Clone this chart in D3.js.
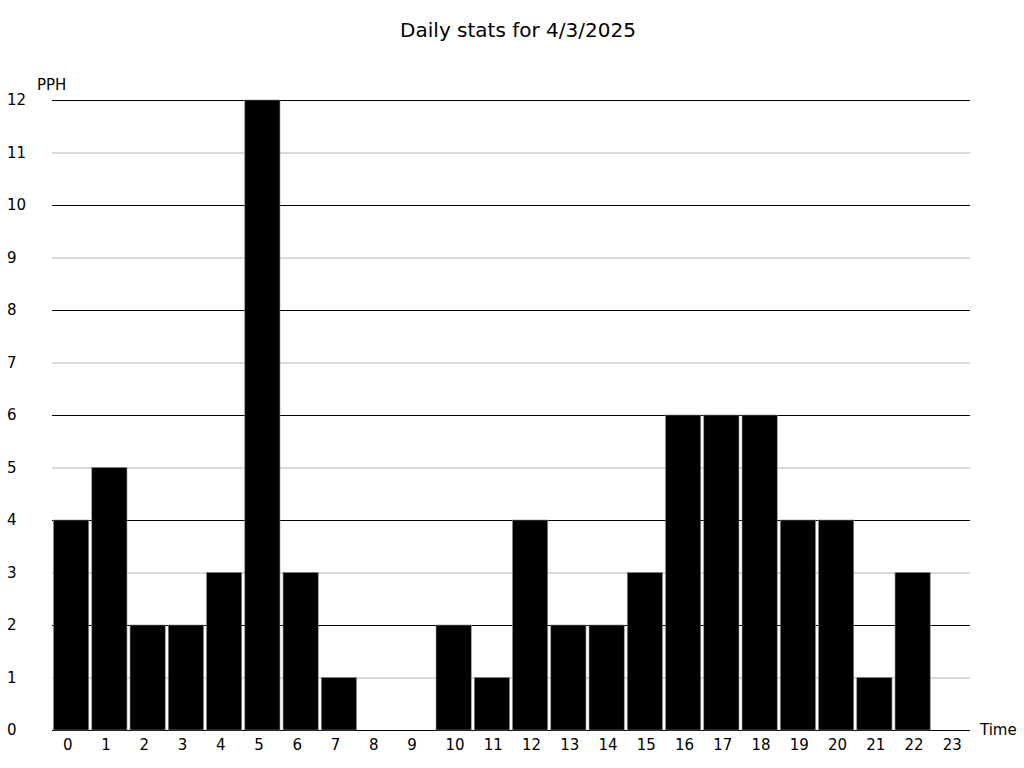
<!DOCTYPE html>
<html><head><meta charset="utf-8">
<script src="https://cdn.jsdelivr.net/npm/d3@7"></script>
<style>body{margin:0;background:#fff}svg{display:block;font-family:"DejaVu Sans",sans-serif}</style>
</head><body><svg id="c" width="1024" height="768"></svg>
<script>
const hours = ["0","1","2","3","4","5","6","7","8","9","10","11","12","13","14","15","16","17","18","19","20","21","22","23"];
const pph = [4,5,2,2,3,12,3,1,0,0,2,1,4,2,2,3,6,6,6,4,4,1,3,0];
const yTicks = [0,1,2,3,4,5,6,7,8,9,10,11,12];
const title = "Daily stats for 4/3/2025";

const svg = d3.select("#c");
const x = d3.scaleBand().domain(hours).range([52,970]).paddingInner(0.08).paddingOuter(0.04);
const y = d3.scaleLinear().domain([0,12]).range([730,100]);

svg.append("text").attr("x",518).attr("y",30).attr("text-anchor","middle").attr("dominant-baseline","central")
  .attr("font-size",20).text(title);

svg.append("g").selectAll("line").data(yTicks).join("line")
  .attr("x1",52).attr("x2",970).attr("y1",d=>y(d)+0.5).attr("y2",d=>y(d)+0.5)
  .attr("stroke",d=>d%2===0?"#000":"#b4b4b4").attr("stroke-width",1);

svg.append("g").selectAll("rect").data(pph).join("rect")
  .attr("x",(d,i)=>x(hours[i])).attr("width",x.bandwidth())
  .attr("y",d=>y(d)).attr("height",d=>y(0)-y(d))
  .attr("fill","#000").attr("stroke",d=>d>0?"#888":"none").attr("stroke-width",0.6);

svg.append("g").selectAll("text").data(yTicks).join("text")
  .attr("x",7).attr("y",d=>y(d)).attr("dominant-baseline","central").attr("font-size",15).text(d=>d);

svg.append("g").selectAll("text").data(hours).join("text")
  .attr("x",d=>x(d)+9.5).attr("y",745).attr("dominant-baseline","central")
  .attr("font-size",15).text(d=>d);

svg.append("text").attr("x",37).attr("y",85).attr("dominant-baseline","central").attr("font-size",15).text("PPH");
svg.append("text").attr("x",980).attr("y",730).attr("dominant-baseline","central").attr("font-size",15).text("Time");
</script></body></html>
